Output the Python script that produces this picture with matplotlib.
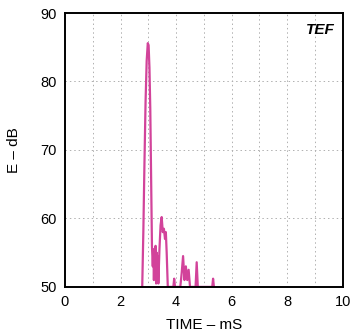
import matplotlib
matplotlib.use("Agg")
import matplotlib.pyplot as plt

plt.rcParams['font.family'] = ['Liberation Sans', 'DejaVu Sans']

time_ms = [2.78, 2.82, 2.86, 2.90, 2.94, 2.98, 3.01, 3.04, 3.07, 3.10, 3.13,
           3.16, 3.18, 3.20, 3.22, 3.24, 3.26, 3.28, 3.30, 3.32, 3.34, 3.36,
           3.40, 3.44, 3.48, 3.52, 3.56, 3.60, 3.63, 3.66, 3.70, 3.90, 3.93,
           3.96, 4.15, 4.20, 4.25, 4.30, 4.35, 4.40, 4.45, 4.50, 4.70, 4.74,
           4.78, 5.30, 5.33, 5.36]
energy_db = [50, 58, 68, 77, 83, 85.6, 85.3, 82, 76, 66, 56,
             53, 55.5, 51, 55, 52, 56, 50.5, 55, 51, 54.5, 50.5,
             55.5, 59, 60.2, 58, 58.5, 57, 58, 55, 50, 50, 51.2,
             50, 50, 52, 54.5, 51, 53, 51, 52.5, 50, 50, 53.6,
             50, 50, 51.2, 50]

xticks = [0, 2, 4, 6, 8, 10]
yticks = [50, 60, 70, 80, 90]

fig = plt.figure(figsize=(3.59, 3.34), dpi=100)
ax = fig.add_axes([0.181, 0.141, 0.774, 0.820])
ax.plot(time_ms, energy_db, color='#d2439a', lw=1.6)
ax.set_xlim(0, 10)
ax.set_ylim(50, 90)
ax.set_xticks(xticks)
ax.set_yticks(yticks)
ax.tick_params(which='both', length=0, labelsize=10.5, pad=6)
for v in range(1, 10):
    ax.axvline(v, color='#b0b0b0', lw=0.7, ls=(0, (1.5, 3)), zorder=0)
for v in [60, 70, 80]:
    ax.axhline(v, color='#b0b0b0', lw=0.7, ls=(0, (1.5, 3)), zorder=0)
for s in ax.spines.values():
    s.set_linewidth(1.4)
ax.set_xlabel('TIME – mS', fontsize=11, labelpad=6)
ax.set_ylabel('E – dB', fontsize=11, labelpad=14)
ax.text(0.97, 0.965, 'TEF', transform=ax.transAxes, ha='right', va='top',
        fontsize=11, fontweight='bold', fontstyle='italic')
fig.savefig('out.png', dpi=100)
